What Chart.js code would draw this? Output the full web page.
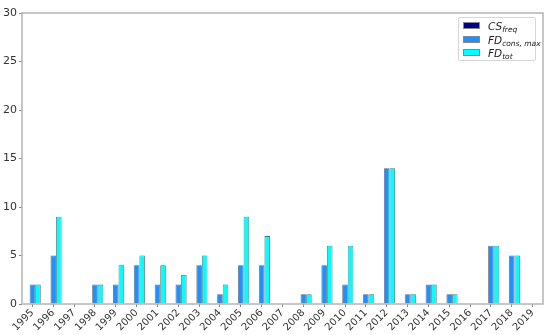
<!DOCTYPE html>
<html>
<head>
<meta charset="utf-8">
<script src="https://cdn.jsdelivr.net/npm/chart.js@4/dist/chart.umd.min.js"></script>
<style>
  html, body { margin: 0; padding: 0; background: #fff; }
  #wrap { position: relative; width: 550px; height: 335px; }
  #legend {
    position: absolute; left: 458px; top: 17px; width: 78px; height: 44px;
    border: 1px solid #d6d6d6; border-radius: 2px; background: rgba(255,255,255,0.85);
    font-family: "DejaVu Sans", sans-serif; font-style: italic; font-size: 10.5px; color: #222;
    box-sizing: border-box;
  }
  .row { position: absolute; left: 4px; height: 12px; line-height: 12px; white-space: nowrap; }
  .sw { position: absolute; left: 0; top: 2px; width: 17px; height: 7px; border: 1px solid #888; box-sizing: border-box; }
  .lb { position: absolute; left: 25px; top: 0; }
  sub { font-size: 7.5px; vertical-align: -2px; }
</style>
</head>
<body>
<div id="wrap">
  <canvas id="c" width="550" height="335"></canvas>
  <div id="legend"></div>
</div>
<script>
const years = ["1995","1996","1997","1998","1999","2000","2001","2002","2003","2004","2005","2006","2007","2008","2009","2010","2011","2012","2013","2014","2015","2016","2017","2018","2019"];
const csFreq  = [0,0,0,0,0,0,0,0,0,0,0,0,0,0,0,0,0,0,0,0,0,0,0,0,0];
const fdConsMax = [2,5,0,2,2,4,2,2,4,1,4,4,0,1,4,2,1,14,1,2,1,0,6,5,0];
const fdTot   = [2,9,0,2,4,5,4,3,5,2,9,7,0,1,6,6,1,14,1,2,1,0,6,5,0];
const yTicks = [0,5,10,15,20,25,30];
const seriesNames = [["CS","freq"],["FD","cons, max"],["FD","tot"]];
const colors = ["#00008b","#1e90ff","#00ffff"];

const legend = document.getElementById('legend');
seriesNames.forEach((n, i) => {
  const r = document.createElement('div');
  r.className = 'row';
  r.style.top = (2 + i * 13.5) + 'px';
  r.innerHTML = '<span class="sw" style="background:' + colors[i] + '"></span><span class="lb">' + n[0] + '<sub>' + n[1] + '</sub></span>';
  legend.appendChild(r);
});

const frame = {
  id: 'frame',
  afterDraw(chart) {
    const a = chart.chartArea, ctx = chart.ctx;
    ctx.save();
    ctx.strokeStyle = '#b4b4b4';
    ctx.lineWidth = 1.5;
    ctx.strokeRect(a.left, a.top, a.right - a.left, a.bottom - a.top);
    ctx.restore();
  }
};

new Chart(document.getElementById('c'), {
  type: 'bar',
  data: {
    labels: years,
    datasets: [
      { label: 'CS_freq', data: csFreq, backgroundColor: colors[0], borderColor: '#666', borderWidth: 0.8 },
      { label: 'FD_cons,max', data: fdConsMax, backgroundColor: colors[1], borderColor: '#666', borderWidth: 0.8 },
      { label: 'FD_tot', data: fdTot, backgroundColor: colors[2], borderColor: '#666', borderWidth: 0.8 }
    ]
  },
  options: {
    responsive: false,
    animation: false,
    devicePixelRatio: 1,
    layout: { padding: { top: 13, right: 7, left: 0, bottom: 0 } },
    plugins: { legend: { display: false }, tooltip: { enabled: false } },
    datasets: { bar: { categoryPercentage: 0.8, barPercentage: 1.0 } },
    scales: {
      x: {
        offset: true,
        grid: { display: true, drawOnChartArea: false, offset: false, tickLength: 3, color: '#888', lineWidth: 1 },
        border: { display: false },
        ticks: { minRotation: 45, maxRotation: 45, autoSkip: false, padding: 0, color: '#333', font: { family: 'DejaVu Sans', size: 10 } },
        afterFit(s) { s.height = 31; }
      },
      y: {
        min: 0, max: 30,
        afterBuildTicks(s) { s.ticks = yTicks.map(v => ({ value: v })); },
        grid: { display: true, drawOnChartArea: false, tickLength: 3, color: '#888', lineWidth: 1 },
        border: { display: false },
        ticks: { padding: 2, color: '#333', font: { family: 'DejaVu Sans', size: 11 } },
        afterFit(s) { s.width = 22; }
      }
    }
  },
  plugins: [frame]
});
</script>
</body>
</html>
